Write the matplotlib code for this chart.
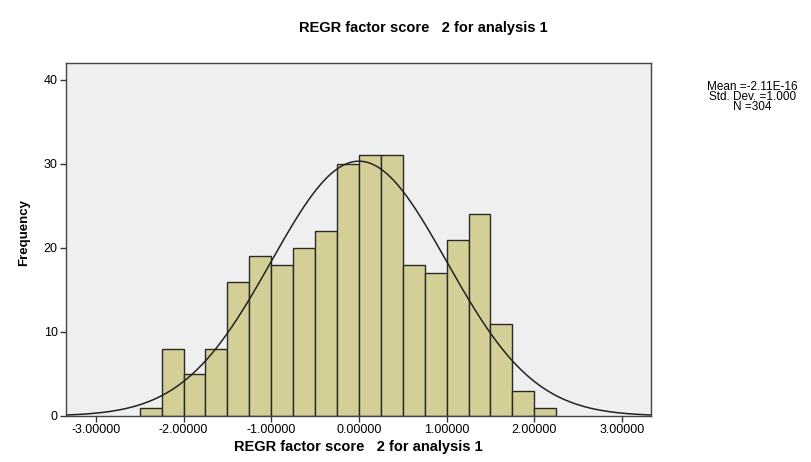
import numpy as np
import matplotlib.pyplot as plt

plt.rcParams['font.family'] = ['Liberation Sans', 'DejaVu Sans']

# histogram bins (left edges) and counts
bin_left = [-2.5, -2.25, -2.0, -1.75, -1.5, -1.25, -1.0, -0.75, -0.5, -0.25,
            0.0, 0.25, 0.5, 0.75, 1.0, 1.25, 1.5, 1.75, 2.0]
counts = [1, 8, 5, 8, 16, 19, 18, 20, 22, 30, 31, 31, 18, 17, 21, 24, 11, 3, 1]
bin_width = 0.25

mean = -2.11e-16
std = 1.0
n = 304

x_ticks = [-3, -2, -1, 0, 1, 2, 3]
y_ticks = [0, 10, 20, 30, 40]

fig = plt.figure(figsize=(8.11, 4.62), dpi=100)
ax = fig.add_axes([0.0814, 0.0996, 0.7213, 0.764])
ax.set_facecolor("#efefef")

ax.bar(bin_left, counts, width=bin_width, align="edge",
       color="#d3cf96", edgecolor="#2a2a2a", linewidth=1.0)

# normal curve scaled to counts
xs = np.linspace(-3.35, 3.35, 400)
pdf = np.exp(-0.5 * ((xs - mean) / std) ** 2) / (std * np.sqrt(2 * np.pi))
ax.plot(xs, n * bin_width * pdf, color="#222222", linewidth=1.1)

ax.set_xlim(-3.34, 3.33)
ax.set_ylim(0, 42)
ax.set_xticks(x_ticks)
ax.set_xticklabels(["%.5f" % t for t in x_ticks], fontsize=9)
ax.set_yticks(y_ticks)
ax.set_yticklabels([str(t) for t in y_ticks], fontsize=9)
ax.tick_params(length=4, width=1, color="#333333", pad=2)
for s in ax.spines.values():
    s.set_color("#444444")
    s.set_linewidth(1.0)

ax.set_xlabel("REGR factor score   2 for analysis 1", fontsize=10.5,
              fontweight="bold", labelpad=3)
ax.set_ylabel("Frequency", fontsize=9.5, fontweight="bold")
ax.yaxis.set_label_coords(-0.062, 0.52)
fig.text(0.522, 0.94, "REGR factor score   2 for analysis 1", fontsize=10.5,
         fontweight="bold", ha="center", va="center")

fig.text(0.928, 0.79, "Mean =-2.11E-16\nStd. Dev. =1.000\nN =304",
         fontsize=8.5, ha="center", va="center", linespacing=0.8)

fig.savefig("out.png", dpi=100)
